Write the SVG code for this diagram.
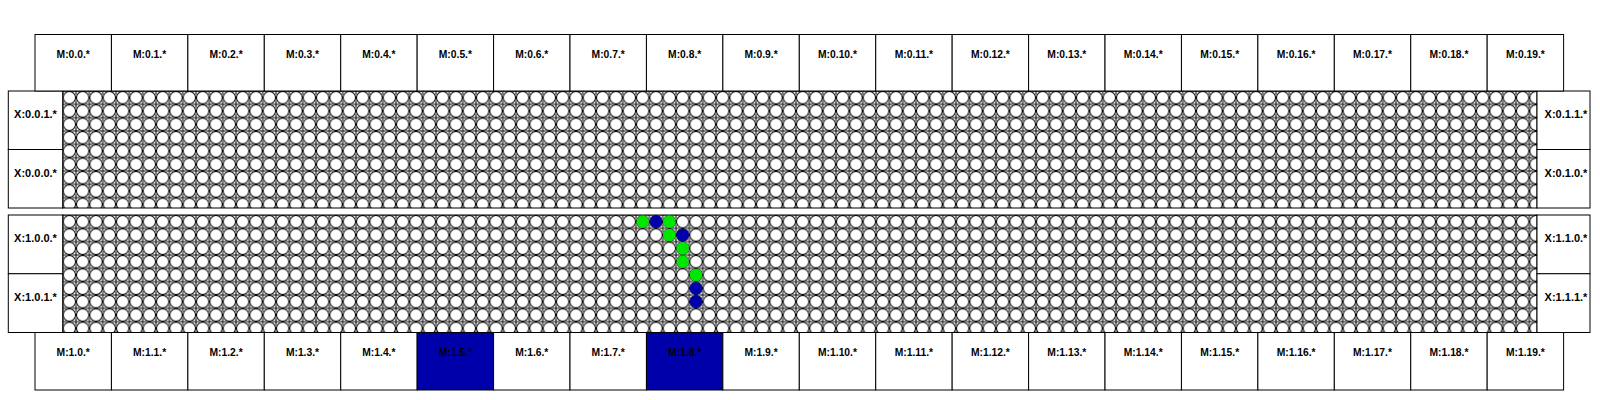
<svg xmlns="http://www.w3.org/2000/svg" width="1600" height="400" viewBox="0 0 1600 400">
<style>
.box{fill:#fff;stroke:#000;stroke-width:1}
.sel{fill:#0000aa;stroke:#000;stroke-width:1}
.lbl{font-family:"Liberation Sans",Arial,sans-serif;font-weight:bold;font-size:10.3px;fill:#000;text-anchor:middle}
.xl{font-size:11px}
.g{fill:#00e600}
.b{fill:#0000aa}
</style>
<defs>
<pattern id="mesh" patternUnits="userSpaceOnUse" width="13.3333" height="13.3333">
<rect width="13.3333" height="13.3333" fill="#fff"/>
<circle cx="6.6667" cy="6.6667" r="6.2" fill="#fff" stroke="#000" stroke-width="1"/>
<path d="M0,-3.5V3.5M-3.5,0H3.5M13.3333,-3.5V3.5M9.8333,0H16.8333M0,9.8333V16.8333M-3.5,13.3333H3.5M13.3333,9.8333V16.8333M9.8333,13.3333H16.8333" stroke="#000" stroke-width="1" fill="none"/>
</pattern>
</defs>
<rect width="1600" height="400" fill="#fff"/>

<g id="grid-0" transform="translate(62.7,91)">
<rect x="0" y="0" width="1474.3" height="117" fill="url(#mesh)" stroke="#000" stroke-width="1"/>
</g>
<g id="grid-1" transform="translate(62.7,215)">
<rect x="0" y="0" width="1474.3" height="117.5" fill="url(#mesh)" stroke="#000" stroke-width="1"/>
<g id="path-cells">
<circle cx="580" cy="6.667" r="6.3" class="g"/>
<circle cx="593.333" cy="6.667" r="6.3" class="b"/>
<circle cx="606.667" cy="6.667" r="6.3" class="g"/>
<circle cx="606.667" cy="20" r="6.3" class="g"/>
<circle cx="620" cy="20" r="6.3" class="b"/>
<circle cx="620" cy="33.333" r="6.3" class="g"/>
<circle cx="620" cy="46.667" r="6.3" class="g"/>
<circle cx="633.333" cy="60" r="6.3" class="g"/>
<circle cx="633.333" cy="73.333" r="6.3" class="b"/>
<circle cx="633.333" cy="86.667" r="6.3" class="b"/>
</g>
</g>

<g id="X-0-0-1"><rect x="8.3" y="91" width="54.4" height="58.5" class="box"/><text x="35.5" y="118" class="lbl xl">X:0.0.1.*</text></g>
<g id="X-0-0-0"><rect x="8.3" y="149.5" width="54.4" height="58.5" class="box"/><text x="35.5" y="177" class="lbl xl">X:0.0.0.*</text></g>
<g id="X-0-1-1"><rect x="1537" y="91" width="53" height="58.5" class="box"/><text x="1566" y="118" class="lbl xl">X:0.1.1.*</text></g>
<g id="X-0-1-0"><rect x="1537" y="149.5" width="53" height="58.5" class="box"/><text x="1566" y="177" class="lbl xl">X:0.1.0.*</text></g>
<g id="X-1-0-0"><rect x="8.3" y="215" width="54.4" height="58.75" class="box"/><text x="35.5" y="242" class="lbl xl">X:1.0.0.*</text></g>
<g id="X-1-0-1"><rect x="8.3" y="273.75" width="54.4" height="58.75" class="box"/><text x="35.5" y="301" class="lbl xl">X:1.0.1.*</text></g>
<g id="X-1-1-0"><rect x="1537" y="215" width="53" height="58.75" class="box"/><text x="1566" y="242" class="lbl xl">X:1.1.0.*</text></g>
<g id="X-1-1-1"><rect x="1537" y="273.75" width="53" height="58.75" class="box"/><text x="1566" y="301" class="lbl xl">X:1.1.1.*</text></g>

<g id="M-0-0"><rect x="35" y="34.5" width="76.43" height="56.5" class="box"/><text x="73.2" y="57.5" class="lbl">M:0.0.*</text></g>
<g id="M-0-1"><rect x="111.43" y="34.5" width="76.43" height="56.5" class="box"/><text x="149.6" y="57.5" class="lbl">M:0.1.*</text></g>
<g id="M-0-2"><rect x="187.86" y="34.5" width="76.43" height="56.5" class="box"/><text x="226.1" y="57.5" class="lbl">M:0.2.*</text></g>
<g id="M-0-3"><rect x="264.29" y="34.5" width="76.43" height="56.5" class="box"/><text x="302.5" y="57.5" class="lbl">M:0.3.*</text></g>
<g id="M-0-4"><rect x="340.72" y="34.5" width="76.43" height="56.5" class="box"/><text x="378.9" y="57.5" class="lbl">M:0.4.*</text></g>
<g id="M-0-5"><rect x="417.15" y="34.5" width="76.43" height="56.5" class="box"/><text x="455.4" y="57.5" class="lbl">M:0.5.*</text></g>
<g id="M-0-6"><rect x="493.58" y="34.5" width="76.43" height="56.5" class="box"/><text x="531.8" y="57.5" class="lbl">M:0.6.*</text></g>
<g id="M-0-7"><rect x="570.01" y="34.5" width="76.43" height="56.5" class="box"/><text x="608.2" y="57.5" class="lbl">M:0.7.*</text></g>
<g id="M-0-8"><rect x="646.44" y="34.5" width="76.43" height="56.5" class="box"/><text x="684.7" y="57.5" class="lbl">M:0.8.*</text></g>
<g id="M-0-9"><rect x="722.87" y="34.5" width="76.43" height="56.5" class="box"/><text x="761.1" y="57.5" class="lbl">M:0.9.*</text></g>
<g id="M-0-10"><rect x="799.3" y="34.5" width="76.43" height="56.5" class="box"/><text x="837.5" y="57.5" class="lbl">M:0.10.*</text></g>
<g id="M-0-11"><rect x="875.73" y="34.5" width="76.43" height="56.5" class="box"/><text x="913.9" y="57.5" class="lbl">M:0.11.*</text></g>
<g id="M-0-12"><rect x="952.16" y="34.5" width="76.43" height="56.5" class="box"/><text x="990.4" y="57.5" class="lbl">M:0.12.*</text></g>
<g id="M-0-13"><rect x="1028.59" y="34.5" width="76.43" height="56.5" class="box"/><text x="1066.8" y="57.5" class="lbl">M:0.13.*</text></g>
<g id="M-0-14"><rect x="1105.02" y="34.5" width="76.43" height="56.5" class="box"/><text x="1143.2" y="57.5" class="lbl">M:0.14.*</text></g>
<g id="M-0-15"><rect x="1181.45" y="34.5" width="76.43" height="56.5" class="box"/><text x="1219.7" y="57.5" class="lbl">M:0.15.*</text></g>
<g id="M-0-16"><rect x="1257.88" y="34.5" width="76.43" height="56.5" class="box"/><text x="1296.1" y="57.5" class="lbl">M:0.16.*</text></g>
<g id="M-0-17"><rect x="1334.31" y="34.5" width="76.43" height="56.5" class="box"/><text x="1372.5" y="57.5" class="lbl">M:0.17.*</text></g>
<g id="M-0-18"><rect x="1410.74" y="34.5" width="76.43" height="56.5" class="box"/><text x="1449" y="57.5" class="lbl">M:0.18.*</text></g>
<g id="M-0-19"><rect x="1487.17" y="34.5" width="76.43" height="56.5" class="box"/><text x="1525.4" y="57.5" class="lbl">M:0.19.*</text></g>

<g id="M-1-0"><rect x="35" y="332.5" width="76.43" height="57.5" class="box"/><text x="73.2" y="356" class="lbl">M:1.0.*</text></g>
<g id="M-1-1"><rect x="111.43" y="332.5" width="76.43" height="57.5" class="box"/><text x="149.6" y="356" class="lbl">M:1.1.*</text></g>
<g id="M-1-2"><rect x="187.86" y="332.5" width="76.43" height="57.5" class="box"/><text x="226.1" y="356" class="lbl">M:1.2.*</text></g>
<g id="M-1-3"><rect x="264.29" y="332.5" width="76.43" height="57.5" class="box"/><text x="302.5" y="356" class="lbl">M:1.3.*</text></g>
<g id="M-1-4"><rect x="340.72" y="332.5" width="76.43" height="57.5" class="box"/><text x="378.9" y="356" class="lbl">M:1.4.*</text></g>
<g id="M-1-5"><rect x="417.15" y="332.5" width="76.43" height="57.5" class="sel"/><text x="455.4" y="356" class="lbl">M:1.5.*</text></g>
<g id="M-1-6"><rect x="493.58" y="332.5" width="76.43" height="57.5" class="box"/><text x="531.8" y="356" class="lbl">M:1.6.*</text></g>
<g id="M-1-7"><rect x="570.01" y="332.5" width="76.43" height="57.5" class="box"/><text x="608.2" y="356" class="lbl">M:1.7.*</text></g>
<g id="M-1-8"><rect x="646.44" y="332.5" width="76.43" height="57.5" class="sel"/><text x="684.7" y="356" class="lbl">M:1.8.*</text></g>
<g id="M-1-9"><rect x="722.87" y="332.5" width="76.43" height="57.5" class="box"/><text x="761.1" y="356" class="lbl">M:1.9.*</text></g>
<g id="M-1-10"><rect x="799.3" y="332.5" width="76.43" height="57.5" class="box"/><text x="837.5" y="356" class="lbl">M:1.10.*</text></g>
<g id="M-1-11"><rect x="875.73" y="332.5" width="76.43" height="57.5" class="box"/><text x="913.9" y="356" class="lbl">M:1.11.*</text></g>
<g id="M-1-12"><rect x="952.16" y="332.5" width="76.43" height="57.5" class="box"/><text x="990.4" y="356" class="lbl">M:1.12.*</text></g>
<g id="M-1-13"><rect x="1028.59" y="332.5" width="76.43" height="57.5" class="box"/><text x="1066.8" y="356" class="lbl">M:1.13.*</text></g>
<g id="M-1-14"><rect x="1105.02" y="332.5" width="76.43" height="57.5" class="box"/><text x="1143.2" y="356" class="lbl">M:1.14.*</text></g>
<g id="M-1-15"><rect x="1181.45" y="332.5" width="76.43" height="57.5" class="box"/><text x="1219.7" y="356" class="lbl">M:1.15.*</text></g>
<g id="M-1-16"><rect x="1257.88" y="332.5" width="76.43" height="57.5" class="box"/><text x="1296.1" y="356" class="lbl">M:1.16.*</text></g>
<g id="M-1-17"><rect x="1334.31" y="332.5" width="76.43" height="57.5" class="box"/><text x="1372.5" y="356" class="lbl">M:1.17.*</text></g>
<g id="M-1-18"><rect x="1410.74" y="332.5" width="76.43" height="57.5" class="box"/><text x="1449" y="356" class="lbl">M:1.18.*</text></g>
<g id="M-1-19"><rect x="1487.17" y="332.5" width="76.43" height="57.5" class="box"/><text x="1525.4" y="356" class="lbl">M:1.19.*</text></g>

<g id="connectors"></g>
</svg>
